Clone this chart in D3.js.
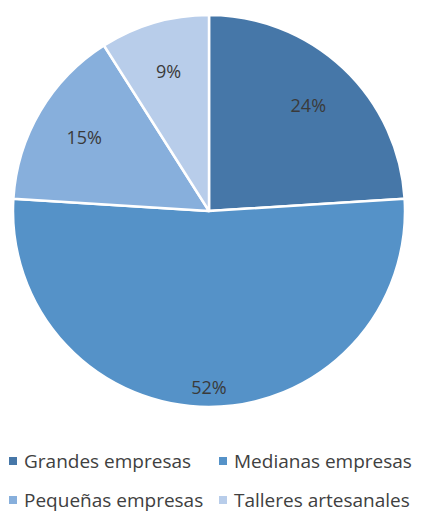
<!DOCTYPE html>
<html>
<head>
<meta charset="utf-8">
<script src="https://cdn.jsdelivr.net/npm/d3@7"></script>
<style>
  body { margin: 0; background: #fff; }
  text { font-family: "Open Sans", "Liberation Sans", sans-serif; }
</style>
</head>
<body>
<div id="chart-area"></div>
<script>
// data
var categories = ["Grandes empresas", "Medianas empresas", "Pequeñas empresas", "Talleres artesanales"];
var shares = [24, 52, 15, 9];
var colours = ["#4677a8", "#5592c8", "#87afdc", "#b8cdea"];

var width = 422, height = 512;
var cx = 209, cy = 211, R = 196;

var svg = d3.select("#chart-area").append("svg")
    .attr("width", width)
    .attr("height", height);

var data = categories.map((c, i) => { return {name: c, value: shares[i]}; });

var colour = d3.scaleOrdinal()
    .domain(categories)
    .range(colours);

var pie = d3.pie()
    .sort(null)
    .value((d) => { return d.value; });

var arc = d3.arc()
    .innerRadius(0)
    .outerRadius(R);

var g = svg.append("g")
    .attr("transform", "translate(" + cx + "," + cy + ")");

var arcs = pie(data);

g.selectAll("path")
    .data(arcs)
  .enter()
    .append("path")
      .attr("d", arc)
      .attr("fill", (d) => { return colour(d.data.name); })
      .attr("stroke", "#fff")
      .attr("stroke-width", 2.5)
      .attr("stroke-linejoin", "round");

// labels: big slice sits near the rim, the others a bit further in
g.selectAll("text.lbl")
    .data(arcs)
  .enter()
    .append("text")
      .attr("class", "lbl")
      .attr("transform", (d) => {
          var r = d.data.value > 40 ? R * 0.9 : R * 0.74;
          var a = (d.startAngle + d.endAngle) / 2;
          return "translate(" + (Math.sin(a) * r) + "," + (-Math.cos(a) * r) + ")";
      })
      .attr("text-anchor", "middle")
      .attr("dy", "0.36em")
      .attr("font-size", 18)
      .attr("fill", "#3a3a3a")
      .text((d) => { return d.data.value + "%"; });

// legend, two per row
var legX = d3.scaleOrdinal().domain([0, 1]).range([9, 219]);
var legY = d3.scaleOrdinal().domain([0, 1]).range([461, 500]);

var leg = svg.selectAll("g.leg")
    .data(data)
  .enter()
    .append("g")
      .attr("class", "leg")
      .attr("transform", (d, i) => {
          return "translate(" + legX(i % 2) + "," + legY(Math.floor(i / 2)) + ")";
      });

leg.append("rect")
    .attr("x", 0)
    .attr("y", -4)
    .attr("width", 8)
    .attr("height", 8)
    .attr("fill", (d) => { return colour(d.name); });

leg.append("text")
    .attr("x", 15)
    .attr("dy", "0.36em")
    .attr("font-size", 19)
    .attr("fill", "#404040")
    .text((d) => { return d.name; });
</script>
</body>
</html>
